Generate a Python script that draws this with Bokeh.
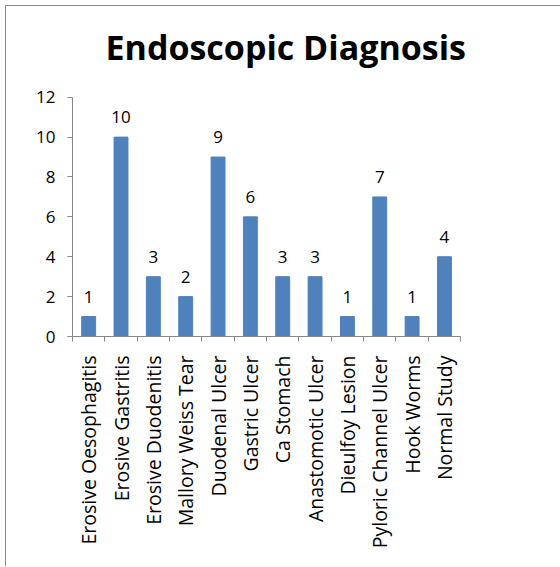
import math

from bokeh.plotting import figure
from bokeh.models import Range1d, FixedTicker, Label, ColumnDataSource
from bokeh.core.properties import value
from bokeh.embed import file_html
from bokeh.resources import INLINE

categories = [
    "Erosive Oesophagitis", "Erosive Gastritis", "Erosive Duodenitis",
    "Mallory Weiss Tear", "Duodenal Ulcer", "Gastric Ulcer", "Ca Stomach",
    "Anastomotic Ulcer", "Dieulfoy Lesion", "Pyloric Channel Ulcer",
    "Hook Worms", "Normal Study",
]
counts = [1, 10, 3, 2, 9, 6, 3, 3, 1, 7, 1, 4]
y_ticks = [0, 2, 4, 6, 8, 10, 12]

FONT = "Open Sans"
BAR = "#4F81BD"
AXIS = "#868686"

n = len(categories)
centers = [i + 0.5 for i in range(n)]
source = ColumnDataSource(dict(x=centers, top=counts, label=[str(c) for c in counts]))

# the frame is larger than the axes so the heading fits inside it;
# both axes are bounded to the data extent
p = figure(
    width=555, height=561,
    x_range=Range1d(0, 14.47), y_range=Range1d(0, 16.35),
    output_backend="svg", toolbar_location=None,
    min_border_left=66, min_border_right=21,
    min_border_top=4, min_border_bottom=231,
)
p.styles = {
    "margin-left": "5px", "margin-top": "5px",
    "border-left": "1px solid #8a8a8a", "border-top": "1px solid #8a8a8a",
}
p.outline_line_color = None
p.grid.visible = False

# chart heading, positioned in pixels from the frame's lower-left corner
p.add_layout(Label(x=33, y=290, x_units="screen", y_units="screen",
                   text="Endoscopic Diagnosis", text_align="left",
                   text_baseline="alphabetic", text_font=FONT,
                   text_font_size="34px", text_font_style="bold",
                   text_color="#000000"))

p.vbar(x="x", top="top", width=0.43, source=source, color=BAR)
p.text(x="x", y="top", text="label", source=source, y_offset=-14,
       text_align="center", text_baseline="bottom",
       text_font=value(FONT), text_font_size="17px", text_color="#000000")

# x axis: labels at bar centres, tick marks on category boundaries
xa = p.xaxis[0]
xa.ticker = FixedTicker(ticks=centers, minor_ticks=list(range(n + 1)))
xa.bounds = (0, n)
xa.major_label_overrides = {c: name for c, name in zip(centers, categories)}
xa.major_label_orientation = math.pi / 2
xa.major_tick_out = 0
xa.major_tick_in = 0
xa.minor_tick_out = 5
xa.minor_tick_in = 0
xa.minor_tick_line_color = AXIS
xa.axis_line_color = AXIS
xa.major_label_standoff = 14
xa.major_label_text_font = FONT
xa.major_label_text_font_size = "19.5px"
xa.major_label_text_color = "#000000"

ya = p.yaxis[0]
ya.ticker = FixedTicker(ticks=y_ticks)
ya.bounds = (0, 12)
ya.major_tick_out = 5
ya.major_tick_in = 0
ya.minor_tick_out = 0
ya.minor_tick_in = 0
ya.axis_line_color = AXIS
ya.major_tick_line_color = AXIS
ya.major_label_standoff = 12
ya.major_label_text_font = FONT
ya.major_label_text_font_size = "17px"
ya.major_label_text_color = "#000000"

open("out.html", "w").write(file_html(p, INLINE))
